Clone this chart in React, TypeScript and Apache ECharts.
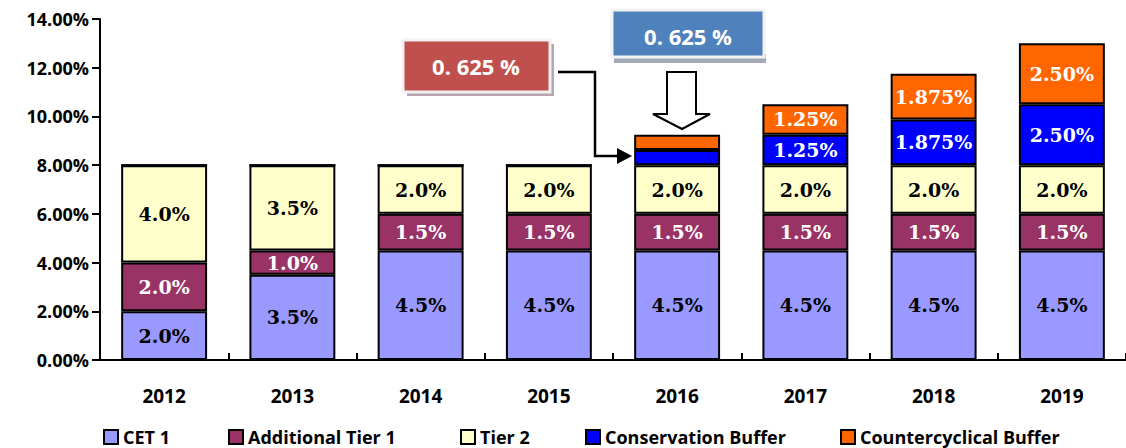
import React, { useEffect, useRef } from "react";
import * as echarts from "echarts";

const years = ["2012", "2013", "2014", "2015", "2016", "2017", "2018", "2019"];
const seriesNames = ["CET 1", "Additional Tier 1", "Tier 2", "Conservation Buffer", "Countercyclical Buffer"];
const cet1 = [2.0, 3.5, 4.5, 4.5, 4.5, 4.5, 4.5, 4.5];
const at1 = [2.0, 1.0, 1.5, 1.5, 1.5, 1.5, 1.5, 1.5];
const tier2 = [4.0, 3.5, 2.0, 2.0, 2.0, 2.0, 2.0, 2.0];
const conservation = [0, 0, 0, 0, 0.625, 1.25, 1.875, 2.5];
const countercyclical = [0, 0, 0, 0, 0.625, 1.25, 1.875, 2.5];
const cet1Labels = ["2.0%", "3.5%", "4.5%", "4.5%", "4.5%", "4.5%", "4.5%", "4.5%"];
const at1Labels = ["2.0%", "1.0%", "1.5%", "1.5%", "1.5%", "1.5%", "1.5%", "1.5%"];
const tier2Labels = ["4.0%", "3.5%", "2.0%", "2.0%", "2.0%", "2.0%", "2.0%", "2.0%"];
const conservationLabels = ["", "", "", "", "", "1.25%", "1.875%", "2.50%"];
const countercyclicalLabels = ["", "", "", "", "", "1.25%", "1.875%", "2.50%"];
const annotationText = "0. 625 %";

const colors = ["#9999FF", "#993366", "#FFFFCC", "#0000FF", "#FF6600"];
const labelColors = ["#000", "#fff", "#000", "#fff", "#fff"];
const legendLefts = [103, 228, 460, 585, 840];

export default function App() {
  const ref = useRef<HTMLDivElement>(null);
  useEffect(() => {
    document.body.style.margin = "0";
    const chart = echarts.init(ref.current!, null, { renderer: "svg" });
    const values = [cet1, at1, tier2, conservation, countercyclical];
    const labels = [cet1Labels, at1Labels, tier2Labels, conservationLabels, countercyclicalLabels];
    const axisFont = { fontFamily: "Open Sans", fontWeight: "bold" as const, fontSize: 18, color: "#000" };
    chart.setOption({
      animation: false,
      grid: { left: 100, top: 19, width: 1031, bottom: 88, containLabel: false },
      xAxis: {
        type: "category",
        data: years,
        axisLine: { lineStyle: { color: "#000", width: 2 } },
        axisTick: { show: true, inside: true, length: 7, interval: 0, lineStyle: { color: "#000", width: 2 } },
        axisLabel: { ...axisFont, fontSize: 19, margin: 26, interval: 0 },
      },
      yAxis: {
        type: "value",
        min: 0,
        max: 14,
        interval: 2,
        axisLine: { show: true, lineStyle: { color: "#000", width: 2 } },
        axisTick: { show: true, length: 8, lineStyle: { color: "#000", width: 2 } },
        splitLine: { show: false },
        axisLabel: { ...axisFont, margin: 11, formatter: (v: number) => v.toFixed(2) + "%" },
      },
      legend: seriesNames.map((name, i) => ({
        data: [name],
        left: legendLefts[i],
        top: 428,
        padding: 0,
        itemWidth: 14,
        itemHeight: 14,
        itemGap: 0,
        icon: "rect",
        textStyle: { fontFamily: "Open Sans", fontWeight: "bold", fontSize: 18, lineHeight: 18, color: "#000", padding: [0, 0, 0, 0] },
      })),
      series: seriesNames.map((name, si) => ({
        name,
        type: "bar",
        stack: "total",
        barWidth: "67%",
        data: values[si],
        itemStyle: { color: colors[si], borderColor: "#000", borderWidth: 2 },
        label: {
          show: true,
          position: "inside",
          color: labelColors[si],
          fontFamily: "DejaVu Serif",
          fontWeight: "bold",
          fontSize: 19,
          formatter: (p: any) => labels[si][p.dataIndex],
        },
      })),
      graphic: [
        { type: "rect", shape: { x: 407, y: 44, width: 147, height: 52 }, style: { fill: "#B8A4AC" }, z: 10 },
        { type: "rect", shape: { x: 403, y: 40, width: 147, height: 52 }, style: { fill: "#C0504D", stroke: "#F2F2F2", lineWidth: 3 }, z: 11 },
        {
          type: "text", x: 476, y: 66, z: 12,
          style: { text: annotationText, fill: "#fff", font: "bold 22px 'Open Sans'", align: "center", verticalAlign: "middle" },
        },
        { type: "rect", shape: { x: 614, y: 54, width: 152, height: 9 }, style: { fill: "#A2AAB8" }, z: 10 },
        { type: "rect", shape: { x: 612, y: 10, width: 152, height: 47 }, style: { fill: "#4F81BD", stroke: "#F2F2F2", lineWidth: 3 }, z: 11 },
        {
          type: "text", x: 688, y: 36, z: 12,
          style: { text: annotationText, fill: "#fff", font: "bold 22px 'Open Sans'", align: "center", verticalAlign: "middle" },
        },
        {
          type: "polyline", z: 12,
          shape: { points: [[558, 72], [595, 72], [595, 156], [618, 156]] },
          style: { stroke: "#000", lineWidth: 2.5, fill: null },
        },
        {
          type: "polygon", z: 12,
          shape: { points: [[617, 148], [632, 156], [617, 164]] },
          style: { fill: "#000" },
        },
        {
          type: "polygon", z: 12,
          shape: { points: [[667, 72], [696, 72], [696, 114], [710, 114], [682, 129], [653, 114], [667, 114]] },
          style: { fill: "#fff", stroke: "#000", lineWidth: 2 },
        },
      ],
    });
    return () => chart.dispose();
  }, []);
  return <div ref={ref} style={{ width: 1126, height: 448 }} />;
}
